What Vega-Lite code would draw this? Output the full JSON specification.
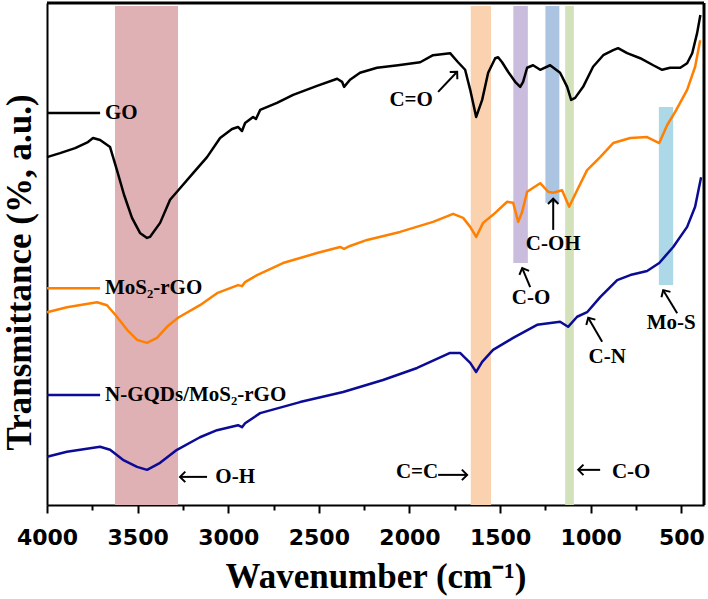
{
"$schema":"https://vega.github.io/schema/vega-lite/v6.json",
"width":657,"height":502,
"autosize":{"type":"none"},
"padding":{"left":47,"top":3,"right":4,"bottom":94},
"background":"white",
"datasets":{
"edges":[{"w":4000,"w2":375,"t":100,"t2":100},{"w":375,"w2":375,"t":0,"t2":100}],
"bands":[
{"b":"O-H","w":3625,"w2":3277,"t":0,"t2":99.4},
{"b":"C=C","w":1662,"w2":1550,"t":0,"t2":99.4},
{"b":"C-O a","w":1427,"w2":1347,"t":48.2,"t2":99.4},
{"b":"C-OH","w":1250,"w2":1173,"t":60.2,"t2":99.4},
{"b":"C-O b","w":1141,"w2":1093,"t":0,"t2":99.4},
{"b":"Mo-S","w":624,"w2":545,"t":43.8,"t2":79.3}
],
"spectra":[
{"s":"GO","w":4000,"t":69.3},{"s":"GO","w":3928,"t":70.1},{"s":"GO","w":3845,"t":71.1},{"s":"GO","w":3774,"t":72.3},{"s":"GO","w":3746,"t":73.1},{"s":"GO","w":3707,"t":72.7},{"s":"GO","w":3652,"t":71.3},{"s":"GO","w":3614,"t":66.7},{"s":"GO","w":3575,"t":61.8},{"s":"GO","w":3531,"t":57.2},{"s":"GO","w":3487,"t":54.2},{"s":"GO","w":3448,"t":53.2},{"s":"GO","w":3432,"t":53.4},{"s":"GO","w":3376,"t":56.2},{"s":"GO","w":3321,"t":60.8},{"s":"GO","w":3266,"t":63.1},{"s":"GO","w":3194,"t":66.1},{"s":"GO","w":3117,"t":69.3},{"s":"GO","w":3045,"t":73.1},{"s":"GO","w":2979,"t":74.9},{"s":"GO","w":2946,"t":75.3},{"s":"GO","w":2924,"t":74.5},{"s":"GO","w":2907,"t":76.1},{"s":"GO","w":2863,"t":77.3},{"s":"GO","w":2847,"t":76.9},{"s":"GO","w":2824,"t":78.7},{"s":"GO","w":2731,"t":80.1},{"s":"GO","w":2642,"t":81.7},{"s":"GO","w":2510,"t":83.5},{"s":"GO","w":2399,"t":84.9},{"s":"GO","w":2372,"t":84.3},{"s":"GO","w":2361,"t":83.3},{"s":"GO","w":2328,"t":84.7},{"s":"GO","w":2273,"t":86.1},{"s":"GO","w":2179,"t":87.1},{"s":"GO","w":2063,"t":87.6},{"s":"GO","w":1941,"t":88.2},{"s":"GO","w":1870,"t":89.6},{"s":"GO","w":1776,"t":90.0},{"s":"GO","w":1732,"t":88.2},{"s":"GO","w":1693,"t":86.7},{"s":"GO","w":1665,"t":82.7},{"s":"GO","w":1632,"t":77.3},{"s":"GO","w":1599,"t":80.7},{"s":"GO","w":1566,"t":86.1},{"s":"GO","w":1527,"t":89.0},{"s":"GO","w":1511,"t":89.2},{"s":"GO","w":1489,"t":88.2},{"s":"GO","w":1456,"t":86.3},{"s":"GO","w":1417,"t":84.3},{"s":"GO","w":1389,"t":83.3},{"s":"GO","w":1373,"t":84.3},{"s":"GO","w":1351,"t":87.1},{"s":"GO","w":1318,"t":87.6},{"s":"GO","w":1279,"t":86.7},{"s":"GO","w":1224,"t":87.6},{"s":"GO","w":1169,"t":86.1},{"s":"GO","w":1130,"t":83.3},{"s":"GO","w":1108,"t":80.7},{"s":"GO","w":1086,"t":81.1},{"s":"GO","w":1042,"t":83.3},{"s":"GO","w":987,"t":87.3},{"s":"GO","w":931,"t":89.6},{"s":"GO","w":876,"t":90.6},{"s":"GO","w":849,"t":91.0},{"s":"GO","w":799,"t":90.0},{"s":"GO","w":727,"t":89.0},{"s":"GO","w":655,"t":87.6},{"s":"GO","w":606,"t":86.7},{"s":"GO","w":562,"t":87.1},{"s":"GO","w":506,"t":87.1},{"s":"GO","w":468,"t":88.0},{"s":"GO","w":440,"t":90.0},{"s":"GO","w":413,"t":94.0},{"s":"GO","w":395,"t":97.6},
{"s":"MoS₂-rGO","w":4000,"t":38.4},{"s":"MoS₂-rGO","w":3890,"t":39.4},{"s":"MoS₂-rGO","w":3724,"t":40.4},{"s":"MoS₂-rGO","w":3669,"t":39.8},{"s":"MoS₂-rGO","w":3614,"t":37.5},{"s":"MoS₂-rGO","w":3558,"t":34.9},{"s":"MoS₂-rGO","w":3503,"t":32.9},{"s":"MoS₂-rGO","w":3448,"t":32.3},{"s":"MoS₂-rGO","w":3393,"t":33.3},{"s":"MoS₂-rGO","w":3338,"t":35.5},{"s":"MoS₂-rGO","w":3277,"t":37.3},{"s":"MoS₂-rGO","w":3156,"t":39.8},{"s":"MoS₂-rGO","w":3062,"t":42.2},{"s":"MoS₂-rGO","w":2946,"t":43.8},{"s":"MoS₂-rGO","w":2924,"t":43.6},{"s":"MoS₂-rGO","w":2907,"t":44.4},{"s":"MoS₂-rGO","w":2841,"t":45.8},{"s":"MoS₂-rGO","w":2698,"t":48.2},{"s":"MoS₂-rGO","w":2510,"t":50.2},{"s":"MoS₂-rGO","w":2383,"t":51.4},{"s":"MoS₂-rGO","w":2361,"t":51.0},{"s":"MoS₂-rGO","w":2328,"t":51.6},{"s":"MoS₂-rGO","w":2234,"t":52.8},{"s":"MoS₂-rGO","w":2052,"t":54.4},{"s":"MoS₂-rGO","w":1870,"t":56.4},{"s":"MoS₂-rGO","w":1759,"t":58.0},{"s":"MoS₂-rGO","w":1704,"t":57.2},{"s":"MoS₂-rGO","w":1665,"t":55.4},{"s":"MoS₂-rGO","w":1632,"t":53.4},{"s":"MoS₂-rGO","w":1594,"t":56.2},{"s":"MoS₂-rGO","w":1539,"t":57.8},{"s":"MoS₂-rGO","w":1461,"t":60.4},{"s":"MoS₂-rGO","w":1428,"t":60.2},{"s":"MoS₂-rGO","w":1400,"t":56.4},{"s":"MoS₂-rGO","w":1378,"t":58.4},{"s":"MoS₂-rGO","w":1351,"t":62.4},{"s":"MoS₂-rGO","w":1279,"t":64.1},{"s":"MoS₂-rGO","w":1235,"t":62.4},{"s":"MoS₂-rGO","w":1207,"t":62.2},{"s":"MoS₂-rGO","w":1158,"t":62.7},{"s":"MoS₂-rGO","w":1119,"t":59.4},{"s":"MoS₂-rGO","w":1075,"t":62.7},{"s":"MoS₂-rGO","w":1020,"t":66.7},{"s":"MoS₂-rGO","w":948,"t":69.3},{"s":"MoS₂-rGO","w":876,"t":72.1},{"s":"MoS₂-rGO","w":782,"t":73.1},{"s":"MoS₂-rGO","w":689,"t":73.3},{"s":"MoS₂-rGO","w":622,"t":72.1},{"s":"MoS₂-rGO","w":578,"t":75.7},{"s":"MoS₂-rGO","w":534,"t":78.3},{"s":"MoS₂-rGO","w":468,"t":82.7},{"s":"MoS₂-rGO","w":424,"t":87.3},{"s":"MoS₂-rGO","w":396,"t":92.6},
{"s":"N-GQDs/MoS₂-rGO","w":4000,"t":9.6},{"s":"N-GQDs/MoS₂-rGO","w":3890,"t":10.6},{"s":"N-GQDs/MoS₂-rGO","w":3707,"t":11.6},{"s":"N-GQDs/MoS₂-rGO","w":3652,"t":11.0},{"s":"N-GQDs/MoS₂-rGO","w":3581,"t":9.0},{"s":"N-GQDs/MoS₂-rGO","w":3503,"t":7.6},{"s":"N-GQDs/MoS₂-rGO","w":3448,"t":7.0},{"s":"N-GQDs/MoS₂-rGO","w":3376,"t":8.4},{"s":"N-GQDs/MoS₂-rGO","w":3283,"t":11.0},{"s":"N-GQDs/MoS₂-rGO","w":3156,"t":13.5},{"s":"N-GQDs/MoS₂-rGO","w":3062,"t":14.9},{"s":"N-GQDs/MoS₂-rGO","w":2946,"t":15.9},{"s":"N-GQDs/MoS₂-rGO","w":2924,"t":15.5},{"s":"N-GQDs/MoS₂-rGO","w":2907,"t":16.3},{"s":"N-GQDs/MoS₂-rGO","w":2824,"t":18.3},{"s":"N-GQDs/MoS₂-rGO","w":2604,"t":20.5},{"s":"N-GQDs/MoS₂-rGO","w":2366,"t":22.5},{"s":"N-GQDs/MoS₂-rGO","w":2146,"t":24.9},{"s":"N-GQDs/MoS₂-rGO","w":1958,"t":27.3},{"s":"N-GQDs/MoS₂-rGO","w":1776,"t":30.3},{"s":"N-GQDs/MoS₂-rGO","w":1721,"t":30.3},{"s":"N-GQDs/MoS₂-rGO","w":1665,"t":28.3},{"s":"N-GQDs/MoS₂-rGO","w":1632,"t":26.5},{"s":"N-GQDs/MoS₂-rGO","w":1599,"t":28.5},{"s":"N-GQDs/MoS₂-rGO","w":1539,"t":30.9},{"s":"N-GQDs/MoS₂-rGO","w":1428,"t":33.3},{"s":"N-GQDs/MoS₂-rGO","w":1296,"t":35.9},{"s":"N-GQDs/MoS₂-rGO","w":1169,"t":36.5},{"s":"N-GQDs/MoS₂-rGO","w":1125,"t":35.5},{"s":"N-GQDs/MoS₂-rGO","w":1075,"t":37.5},{"s":"N-GQDs/MoS₂-rGO","w":1020,"t":38.4},{"s":"N-GQDs/MoS₂-rGO","w":948,"t":41.4},{"s":"N-GQDs/MoS₂-rGO","w":854,"t":44.8},{"s":"N-GQDs/MoS₂-rGO","w":782,"t":45.8},{"s":"N-GQDs/MoS₂-rGO","w":689,"t":46.6},{"s":"N-GQDs/MoS₂-rGO","w":622,"t":48.2},{"s":"N-GQDs/MoS₂-rGO","w":545,"t":51.4},{"s":"N-GQDs/MoS₂-rGO","w":468,"t":55.4},{"s":"N-GQDs/MoS₂-rGO","w":424,"t":59.4},{"s":"N-GQDs/MoS₂-rGO","w":391,"t":65.3}
],
"leg":[
{"s":"GO","w":4000,"w2":3707,"t":78.1},
{"s":"MoS₂-rGO","w":4000,"w2":3707,"t":43.2},
{"s":"N-GQDs/MoS₂-rGO","w":4000,"w2":3707,"t":21.9}
],
"legtext":[
{"label":"GO","w":3680,"t":78.1},
{"label":"MoS₂-rGO","w":3680,"t":43.2},
{"label":"N-GQDs/MoS₂-rGO","w":3680,"t":21.9}
],
"notes":[
{"label":"C=O","w":1991,"t":80.7},
{"label":"C-OH","w":1207,"t":52.0},
{"label":"C-O","w":1329,"t":41.2},
{"label":"C-N","w":909,"t":29.5},
{"label":"Mo-S","w":556,"t":36.3},
{"label":"C=C","w":1958,"t":6.6},
{"label":"C-O","w":777,"t":6.6},
{"label":"O-H","w":2962,"t":5.6}
],
"arrows":[
{"w":1737,"t":86.3,"w2":1842,"t2":82.3,"ang":-46.5},
{"w":1207,"t":61.0,"w2":1207,"t2":54.8,"ang":-90},
{"w":1378,"t":47.2,"w2":1334,"t2":43.4,"ang":-112.8},
{"w":1014,"t":37.3,"w2":937,"t2":32.5,"ang":-120.3},
{"w":600,"t":42.8,"w2":523,"t2":38.2,"ang":-121.3},
{"w":1682,"t":6.0,"w2":1842,"t2":6.0,"ang":0},
{"w":1069,"t":7.0,"w2":948,"t2":7.0,"ang":180},
{"w":3266,"t":5.6,"w2":3117,"t2":5.6,"ang":180}
]
},
"encoding":{
"x":{"field":"w","type":"quantitative",
 "scale":{"domain":[375,4000],"reverse":true,"nice":false,"zero":false},
 "axis":{"values":[4000,3750,3500,3250,3000,2750,2500,2250,2000,1750,1500,1250,1000,750,500],
  "format":"d","title":"Wavenumber (cm⁻¹)",
  "labelExpr":"datum.value % 500 == 0 ? datum.label : ''",
  "tickSize":{"condition":{"test":"datum.value % 500 != 0","value":5},"value":8},
  "labelFont":"DejaVu Sans","labelFontSize":22,"labelFontWeight":"bold","labelColor":"black",
  "labelPadding":14,"labelOverlap":false,"labelFlush":false,
  "tickColor":"black","tickWidth":2,"domainColor":"black","domainWidth":2,"grid":false,
  "titleFont":"Liberation Serif","titleFontSize":35,"titleFontWeight":"bold","titleColor":"black","titlePadding":11}},
"y":{"field":"t","type":"quantitative",
 "scale":{"domain":[0,100],"nice":false,"zero":false},
 "axis":{"ticks":false,"labels":false,"grid":false,"domainColor":"black","domainWidth":2,
  "title":"Transmittance (%, a.u.)","titleFont":"Liberation Serif","titleFontSize":35,"titleFontWeight":"bold","titleColor":"black",
  "titleX":-28,"titleY":269,"titleAngle":-90,"titleAlign":"center","titleBaseline":"middle"}}
},
"layer":[
{"data":{"name":"bands"},"mark":{"type":"rect"},
 "encoding":{"x2":{"field":"w2"},"y2":{"field":"t2"},
  "fill":{"field":"b","type":"nominal","legend":null,
   "scale":{"domain":["O-H","C=C","C-O a","C-OH","C-O b","Mo-S"],"range":["#dfb1b4","#fad2b0","#c9bcdc","#abc4e2","#d3e2bb","#acd8e7"]}}}},
{"data":{"name":"spectra"},"mark":{"type":"line","strokeWidth":2.5,"strokeJoin":"round"},
 "encoding":{"stroke":{"field":"s","type":"nominal","legend":null,
   "scale":{"domain":["GO","MoS₂-rGO","N-GQDs/MoS₂-rGO"],"range":["#000000","#ff8000","#0b0b96"]}}}},
{"data":{"name":"leg"},"mark":{"type":"rule","strokeWidth":2.5},
 "encoding":{"x2":{"field":"w2"},"stroke":{"field":"s","type":"nominal","legend":null}}},
{"data":{"name":"legtext"},"mark":{"type":"text","align":"left","baseline":"middle","font":"Liberation Serif","fontSize":21,"fontWeight":"bold","color":"black"},
 "encoding":{"text":{"field":"label"}}},
{"data":{"name":"notes"},"mark":{"type":"text","align":"center","baseline":"middle","font":"Liberation Serif","fontSize":21,"fontWeight":"bold","color":"black"},
 "encoding":{"text":{"field":"label"}}},
{"data":{"name":"arrows"},"mark":{"type":"rule","strokeWidth":2,"color":"black"},
 "encoding":{"x2":{"field":"w2"},"y2":{"field":"t2"}}},
{"data":{"name":"arrows"},"mark":{"type":"point","shape":"M-1,-1L0,0L-1,1","filled":false,"stroke":"black","strokeWidth":2,"size":110,"opacity":1},
 "encoding":{"angle":{"field":"ang","type":"quantitative","scale":null}}},
{"data":{"name":"edges"},"mark":{"type":"rule","color":"black","strokeWidth":3},
 "encoding":{"x2":{"field":"w2"},"y2":{"field":"t2"}}}
]
}
